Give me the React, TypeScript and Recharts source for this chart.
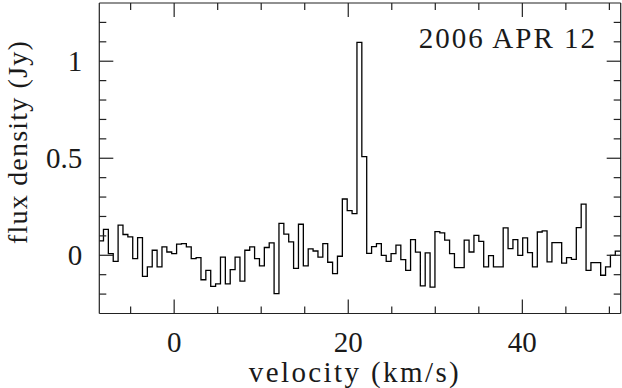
import { LineChart, Line, XAxis, YAxis } from 'recharts';

// channel grid of the spectrum (left edge of first channel, channel width, km/s)
const V0 = -8.68;
const DV = 0.56;

// flux density per channel (Jy)
const flux = [
  0.074, 0.133, 0.009, -0.031, 0.155, 0.107, 0.095, -0.017, 0.091, -0.109,
  -0.06, 0.026, -0.06, 0.043, 0.017, 0.009, 0.057, 0.06, 0.043, -0.017,
  -0.012, -0.126, -0.078, -0.16, -0.147, -0.01, -0.147, -0.074, -0.009, -0.133,
  0.026, 0.043, -0.017, -0.055, 0.04, 0.064, -0.198, 0.164, 0.109, 0.069,
  -0.067, 0.16, -0.055, 0.033, 0.022, -0.009, 0.06, -0.036, -0.095, -0.005,
  0.29, 0.23, 0.215, 1.097, 0.508, 0.01, 0.045, 0.06, 0.0, -0.031,
  0.009, 0.052, -0.022, -0.078, 0.081, 0.016, -0.158, 0.012, -0.164, 0.122,
  0.115, 0.078, 0.009, -0.064, -0.064, 0.078, 0.017, 0.103, 0.072, -0.06,
  -0.002, -0.06, -0.06, 0.141, 0.034, 0.081, 0.0, 0.09, 0.014, -0.06,
  0.12, 0.126, -0.034, 0.065, 0.065, -0.04, -0.012, -0.021, 0.143, 0.264,
  -0.078, -0.038, -0.038, -0.103, -0.06, 0.0, 0.021,
];

const xDomain = [-8.6, 51.3];
const yDomain = [-0.3, 1.3];
const xTicks = [-5, 0, 5, 10, 15, 20, 25, 30, 35, 40, 45, 50];
const xLabelled = [0, 20, 40];
const yTicks = [-0.2, -0.1, 0, 0.1, 0.2, 0.3, 0.4, 0.5, 0.6, 0.7, 0.8, 0.9, 1, 1.1, 1.2];
const yLabelled = [0, 0.5, 1];

const FONT = '"Liberation Serif", "DejaVu Serif", serif';
const INK = '#1a1a1a';
const FRAME = '#222';
const MAJOR = 14;
const MINOR = 7;

// one point per channel left edge, plus closing edge so the last step is drawn
const data = flux.map((f, i) => ({ v: +(V0 + DV * i).toFixed(3), flux: f }));
data.push({ v: +(V0 + DV * flux.length).toFixed(3), flux: flux[flux.length - 1] });

const isMajor = (list: number[], v: number) => list.some((m) => Math.abs(m - v) < 1e-6);

// tick marks point into the plot, PGPLOT style; labels only on bottom / left
const BottomTick = ({ x, y, payload }: any) => {
  const major = isMajor(xLabelled, payload.value);
  return (
    <g>
      <line x1={x} x2={x} y1={y} y2={y - (major ? MAJOR : MINOR)} stroke={FRAME} strokeWidth={1.2} />
      {major && (
        <text x={x} y={y + 38.5} textAnchor="middle" fontFamily={FONT} fontSize={29} fill={INK}>
          {payload.value}
        </text>
      )}
    </g>
  );
};

const TopTick = ({ x, y, payload }: any) => {
  const major = isMajor(xLabelled, payload.value);
  return <line x1={x} x2={x} y1={y} y2={y + (major ? MAJOR : MINOR)} stroke={FRAME} strokeWidth={1.2} />;
};

const LeftTick = ({ x, y, payload }: any) => {
  const major = isMajor(yLabelled, payload.value);
  return (
    <g>
      <line x1={x} x2={x + (major ? MAJOR : MINOR)} y1={y} y2={y} stroke={FRAME} strokeWidth={1.2} />
      {major && (
        <text x={x - 17} y={y} dy="0.33em" textAnchor="end" fontFamily={FONT} fontSize={29} fill={INK}>
          {payload.value}
        </text>
      )}
    </g>
  );
};

const RightTick = ({ x, y, payload }: any) => {
  const major = isMajor(yLabelled, payload.value);
  return <line x1={x} x2={x - (major ? MAJOR : MINOR)} y1={y} y2={y} stroke={FRAME} strokeWidth={1.2} />;
};

export default function App() {
  const axisLine = { stroke: FRAME, strokeWidth: 1.2 };
  return (
    <div style={{ position: 'absolute', left: 0, top: 0, width: 622, height: 388, background: '#fff' }}>
      <LineChart
        width={622}
        height={388}
        data={data}
        margin={{ top: 2, right: 0.3, bottom: 73.5, left: 98.3 }}
      >
        <XAxis
          xAxisId="b" dataKey="v" type="number" domain={xDomain} allowDataOverflow
          ticks={xTicks} interval={0} height={1} tickSize={0} tickMargin={0}
          axisLine={axisLine} tickLine={false} tick={BottomTick}
        />
        <XAxis
          xAxisId="t" orientation="top" dataKey="v" type="number" domain={xDomain} allowDataOverflow
          ticks={xTicks} interval={0} height={1} tickSize={0} tickMargin={0}
          axisLine={axisLine} tickLine={false} tick={TopTick}
        />
        <YAxis
          yAxisId="l" type="number" domain={yDomain} allowDataOverflow
          ticks={yTicks} interval={0} width={1} tickSize={0} tickMargin={0}
          axisLine={axisLine} tickLine={false} tick={LeftTick}
        />
        <YAxis
          yAxisId="r" orientation="right" type="number" domain={yDomain} allowDataOverflow
          ticks={yTicks} interval={0} width={1} tickSize={0} tickMargin={0}
          axisLine={axisLine} tickLine={false} tick={RightTick}
        />
        <Line
          xAxisId="b"
          yAxisId="l"
          type="stepAfter"
          dataKey="flux"
          stroke="#000"
          strokeWidth={1.3}
          dot={false}
          isAnimationActive={false}
        />
      </LineChart>
      <svg
        width={622}
        height={388}
        style={{ position: 'absolute', left: 0, top: 0, pointerEvents: 'none' }}
      >
        <text x={597} y={48} textAnchor="end" fontFamily={FONT} fontSize={29} fill={INK} letterSpacing={2}>
          2006 APR 12
        </text>
        <text x={355} y={382} textAnchor="middle" fontFamily={FONT} fontSize={29} fill={INK} letterSpacing={2.4}>
          velocity (km/s)
        </text>
        <text
          transform="translate(27,142) rotate(-90)"
          textAnchor="middle"
          fontFamily={FONT}
          fontSize={28}
          fill={INK}
          letterSpacing={1.2}
        >
          flux density (Jy)
        </text>
      </svg>
    </div>
  );
}
